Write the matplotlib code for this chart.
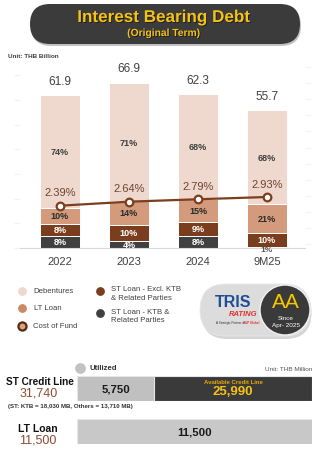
import numpy as np
import matplotlib
matplotlib.use("Agg")
import matplotlib.pyplot as plt
from matplotlib.patches import FancyBboxPatch, Circle
import matplotlib.patheffects as pe

plt.rcParams["font.family"] = ["Liberation Sans", "DejaVu Sans"]

# debt mix by period (% of total) and totals in THB billion
periods = ["2022", "2023", "2024", "9M25"]
totals = [61.9, 66.9, 62.3, 55.7]
debentures = [74, 71, 68, 68]
lt_loan = [10, 14, 15, 21]
st_excl_ktb = [8, 10, 9, 10]
st_ktb = [8, 4, 8, 1]
cost_of_fund = [2.39, 2.64, 2.79, 2.93]

# credit lines, THB million
st_utilized = 5750
st_available = 25990
st_total = 31740
lt_loan_line = 11500

C_DEB = "#efd8cd"
C_LT = "#d39b7b"
C_STX = "#7a3d1d"
C_KTB = "#404040"
C_LINE = "#7b3f1e"
TXT = "#404040"
YEL = "#f5c218"

W, H = 329, 460
fig = plt.figure(figsize=(W / 100, H / 100), dpi=100)

# pixel-space canvas for the decorations
bg = fig.add_axes([0, 0, 1, 1])
bg.set_xlim(0, W)
bg.set_ylim(H, 0)
bg.axis("off")

# ---- title banner ----
bg.add_patch(FancyBboxPatch((31, 7), 270, 40, boxstyle="round,pad=0,rounding_size=20",
                            fc="#9a9a9a", ec="none", alpha=0.6))
bg.add_patch(FancyBboxPatch((30, 5), 270, 40, boxstyle="round,pad=0,rounding_size=20",
                            fc="#3b3b3b", ec="none"))
shadow = [pe.withSimplePatchShadow(offset=(0.6, -0.6), shadow_rgbFace="#111111", alpha=0.8)]
bg.text(164, 18.5, "Interest Bearing Debt", color=YEL, fontsize=12.3, fontweight="bold",
        ha="center", va="center", path_effects=shadow)
bg.text(164, 34, "(Original Term)", color=YEL, fontsize=7.4, fontweight="bold",
        ha="center", va="center", path_effects=shadow)
bg.text(8, 57, "Unit: THB Billion", color=TXT, fontsize=4.6, fontweight="bold", va="center")

# ---- stacked bars ----
ax = fig.add_axes([20 / W, (H - 249) / H, 285 / W, 189 / H])
ax.patch.set_alpha(0)
x = np.arange(len(periods))
bw = 40 / 69
ax.set_xlim(-40 / 69, 3 + 38 / 69)
ax.set_ylim(0, 189 / 2.47)

stack = [(st_ktb, C_KTB, "white"), (st_excl_ktb, C_STX, "white"),
         (lt_loan, C_LT, "#2b2b2b"), (debentures, C_DEB, TXT)]
shares = np.array([s[0] for s in stack], dtype=float)
shares = shares / shares.sum(axis=0)
bottom = np.zeros(len(periods))
for (pct, color, tcol), frac in zip(stack, shares):
    h = np.array(totals) * frac
    ax.bar(x, h, bw, bottom=bottom, color=color, edgecolor="white", linewidth=0.7, zorder=2)
    for i in range(len(periods)):
        yc = bottom[i] + h[i] / 2
        if pct[i] < 2:
            ax.annotate(f"{pct[i]}%", (x[i], yc), xytext=(0, -1.5), textcoords="offset points",
                        ha="center", va="center", fontsize=6, fontweight="bold", color="#555555",
                        zorder=4)
        else:
            ax.text(x[i], yc, f"{pct[i]}%", ha="center", va="center", fontsize=6.5,
                    fontweight="bold", color=tcol, zorder=4)
    bottom += h

for i, t in enumerate(totals):
    ax.annotate(f"{t}", (x[i], t), xytext=(0, 6), textcoords="offset points",
                ha="center", va="bottom", fontsize=8.5, color=TXT)

ax.set_xticks(x)
ax.set_xticklabels(periods, fontsize=8, color=TXT)
ax.tick_params(axis="x", length=0, pad=6)
ax.set_yticks(np.arange(0, 80, 10))
ax.tick_params(axis="y", length=4, color="#f3f3f3", labelleft=False)
for s in ["top", "right", "left"]:
    ax.spines[s].set_visible(False)
ax.spines["bottom"].set_color("#d9d9d9")

# ---- cost of fund line ----
ax2 = ax.twinx()
ax2.set_ylim(-0.237, 11.50)
ax2.plot(x, cost_of_fund, color=C_LINE, lw=1.6, marker="o", ms=5.5, mfc="white",
         mec=C_LINE, mew=1.6, zorder=5)
for i, v in enumerate(cost_of_fund):
    ax2.annotate(f"{v:.2f}%", (x[i], v), xytext=(0, 6), textcoords="offset points",
                 ha="center", va="bottom", fontsize=8, color="#6e4330")
ax2.set_yticks(np.arange(0, 12, 1))
ax2.tick_params(axis="y", length=4, color="#f3f3f3", labelright=False)
for s in ax2.spines.values():
    s.set_visible(False)

# ---- legend ----
fs_leg = 5.6
bg.scatter([22], [291.7], s=28, color=C_DEB, zorder=3)
bg.text(33, 291.7, "Debentures", fontsize=fs_leg, color=TXT, va="center")
bg.scatter([22], [308.5], s=28, color="#c98a65", zorder=3)
bg.text(34, 308.5, "LT Loan", fontsize=fs_leg, color=TXT, va="center")
bg.scatter([22], [326.8], s=34, color="#d7a382", edgecolors="#5a2810", linewidths=1.6, zorder=3)
bg.text(33, 326.8, "Cost of Fund", fontsize=fs_leg, color=TXT, va="center")
bg.scatter([99.5], [291.7], s=28, color=C_STX, zorder=3)
bg.text(111, 294, "ST Loan - Excl. KTB\n& Related Parties", fontsize=fs_leg, color=TXT,
        va="center", linespacing=1.25)
bg.scatter([99.5], [314], s=28, color=C_KTB, zorder=3)
bg.text(111, 316.5, "ST Loan - KTB &\nRelated Parties", fontsize=fs_leg, color=TXT,
        va="center", linespacing=1.25)

# ---- rating badge ----
bg.add_patch(FancyBboxPatch((201.5, 287), 110, 53, boxstyle="round,pad=0,rounding_size=26",
                            fc="#c4c4c4", ec="none", alpha=0.7))
bg.add_patch(FancyBboxPatch((200, 285), 110, 52, boxstyle="round,pad=0,rounding_size=26",
                            fc="#dcdcdc", ec="#e8e8e8", lw=0.6))
bg.add_patch(Circle((285, 311), 25, fc="#3a3a3a", ec="#f2f2f2", lw=1.0, zorder=3))
bg.text(233, 303, "TRIS", fontsize=11.5, fontweight="bold", color="#1f4e96",
        ha="center", va="center")
bg.text(243, 314.5, "RATING", fontsize=5.5, fontweight="bold", style="italic",
        color="#e0322d", ha="center", va="center")
bg.text(230, 323, "A Strategic Partner of", fontsize=2.2, color="#333333", ha="center", va="center")
bg.text(251, 323, "S&P Global", fontsize=2.2, color="#e0322d", fontweight="bold",
        ha="center", va="center")
bg.text(286, 303, "AA", fontsize=15, color="#f6c700", ha="center", va="center", zorder=4)
bg.text(286, 319, "Since", fontsize=4.6, color="white", ha="center", va="center", zorder=4)
bg.text(286, 325.5, "Apr- 2025", fontsize=4.6, color="white", ha="center", va="center", zorder=4)

# ---- credit lines ----
bg.scatter([80], [369], s=45, color="#c2c2c2", zorder=3)
bg.text(89.5, 369, "Utilized", fontsize=5.6, fontweight="bold", color="#333333", va="center")
bg.text(312, 370, "Unit: THB Million", fontsize=4.6, color="#555555", ha="right", va="center")

bg.text(40, 382, "ST Credit Line", fontsize=7.2, fontweight="bold", color="#111111",
        ha="center", va="center")
bg.text(39, 393.5, f"{st_total:,}", fontsize=9, color="#8b4a2e", ha="center", va="center")
bg.text(8, 407, "(ST: KTB = 18,030 MB, Others = 13,710 MB)", fontsize=4.4, fontweight="bold",
        color="#333333", va="center")
bg.text(38, 429, "LT Loan", fontsize=7.5, fontweight="bold", color="#111111",
        ha="center", va="center")
bg.text(38, 441, f"{lt_loan_line:,}", fontsize=9, color="#8b4a2e", ha="center", va="center")

# compressed scale so the small utilized slice stays readable
p = 0.65
fwd = lambda v: np.power(np.clip(v, 0, None), p)
inv = lambda v: np.power(np.clip(v, 0, None), 1 / p)
mid = lambda a, b: ((a ** p + b ** p) / 2) ** (1 / p)

ax_st = fig.add_axes([77 / W, (H - 402) / H, 235 / W, 25 / H])
ax_st.set_xscale("function", functions=(fwd, inv))
ax_st.barh(0, st_utilized, height=1, color="#c0c0c0", edgecolor="#e6e6e6", lw=0.8)
ax_st.barh(0, st_available, left=st_utilized, height=1, color="#3a3a3a",
           edgecolor="#e6e6e6", lw=0.8)
ax_st.set_xlim(0, st_utilized + st_available)
ax_st.set_ylim(-0.5, 0.5)
ax_st.text(mid(0, st_utilized), 0, f"{st_utilized:,}", fontsize=8.2, fontweight="bold",
           color="#1a1a1a", ha="center", va="center")
xa = mid(st_utilized, st_utilized + st_available)
ax_st.text(xa, 0.28, "Available Credit Line", fontsize=4.3, fontweight="bold",
           color="#e8a900", ha="center", va="center")
ax_st.text(xa, -0.1, f"{st_available:,}", fontsize=9.5, fontweight="bold",
           color=YEL, ha="center", va="center")
ax_st.axis("off")

ax_lt = fig.add_axes([77 / W, (H - 445) / H, 235 / W, 25 / H])
ax_lt.barh(0, lt_loan_line, height=1, color="#c8c8c8", edgecolor="#e6e6e6", lw=0.8)
ax_lt.set_xlim(0, lt_loan_line)
ax_lt.set_ylim(-0.5, 0.5)
ax_lt.text(lt_loan_line / 2, 0, f"{lt_loan_line:,}", fontsize=8.2, fontweight="bold",
           color="#1a1a1a", ha="center", va="center")
ax_lt.axis("off")

fig.savefig("out.png", dpi=100)
